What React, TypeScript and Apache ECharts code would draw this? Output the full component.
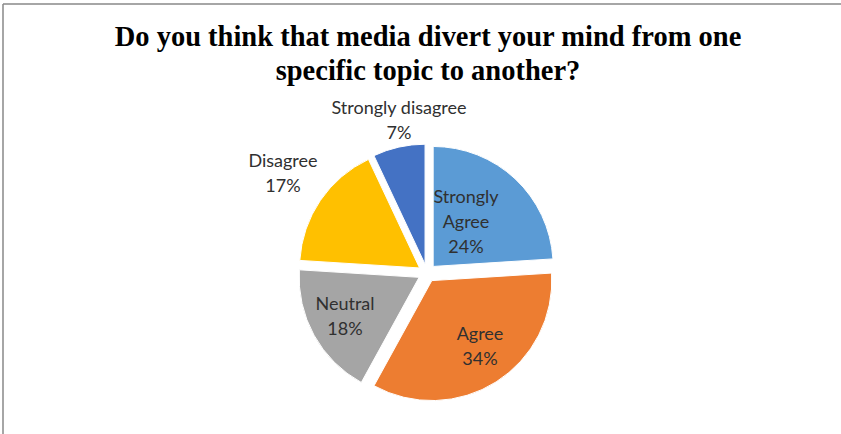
import React, { useEffect, useRef } from "react";
import * as echarts from "echarts";

const titleText = "Do you think that media divert your mind from one\nspecific topic to another?";
const categories = ["Strongly Agree", "Agree", "Neutral", "Disagree", "Strongly disagree"];
const values = [24, 34, 18, 17, 7];
const colors = ["#5B9BD5", "#ED7D31", "#A5A5A5", "#FFC000", "#4472C4"];
// label anchor points (px) as placed in the reference
const labelPos: [number, number][] = [
  [466, 221],
  [480, 345],
  [345, 315],
  [283, 172],
  [399, 119],
];

const labelText = (i: number) =>
  (i === 0 ? categories[i].replace(" ", "\n") : categories[i]) + "\n" + values[i] + "%";

export default function App() {
  const ref = useRef<HTMLDivElement>(null);
  useEffect(() => {
    if (!ref.current) return;
    const chart = echarts.init(ref.current, null, { renderer: "svg" });
    chart.setOption({
      animation: false,
      backgroundColor: "#ffffff",
      graphic: [
        { type: "line", shape: { x1: 3, y1: 4, x2: 841, y2: 4 }, style: { stroke: "#888888", lineWidth: 1.5 } },
        { type: "line", shape: { x1: 3, y1: 4, x2: 3, y2: 434 }, style: { stroke: "#888888", lineWidth: 1.5 } },
        {
          type: "text",
          x: 428,
          y: 19,
          scaleX: 0.95,
          style: {
            text: titleText,
            align: "center",
            verticalAlign: "top",
            fontFamily: "Liberation Serif",
            fontWeight: "bold",
            fontSize: 30,
            lineHeight: 34,
            fill: "#000000",
          },
        },
        ...categories.map((_, i) => ({
          type: "text",
          x: labelPos[i][0],
          y: labelPos[i][1],
          z: 100,
          style: {
            text: labelText(i),
            align: "center",
            verticalAlign: "middle",
            fontFamily: "Lato",
            fontSize: 18,
            lineHeight: 25,
            fill: "#303030",
          },
        })),
      ],
      series: [
        {
          type: "pie",
          center: [427, 273],
          radius: 120,
          startAngle: 90,
          clockwise: true,
          selectedMode: "multiple",
          selectedOffset: 9,
          emphasis: { disabled: true },
          itemStyle: { borderColor: "#ffffff", borderWidth: 1 },
          label: { show: false },
          labelLine: { show: false },
          data: categories.map((c, i) => ({
            name: c,
            value: values[i],
            selected: true,
            itemStyle: { color: colors[i] },
          })),
        },
      ],
    });
    return () => chart.dispose();
  }, []);
  return (
    <div
      ref={ref}
      style={{ position: "fixed", left: 0, top: 0, width: 841, height: 434 }}
    />
  );
}
